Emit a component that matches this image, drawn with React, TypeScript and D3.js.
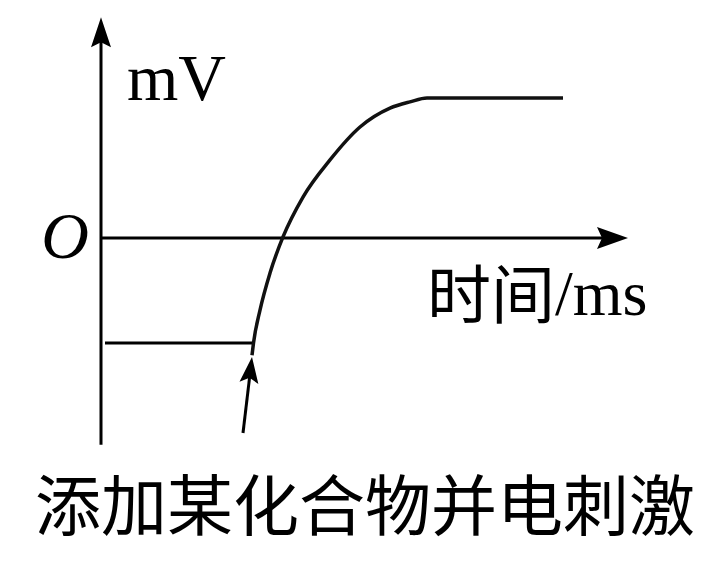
import React from 'react';
import * as d3 from 'd3';

// 膜电位曲线 (时间 单位, mV 任意单位)
const restTime = [0.4, 15.3];
const restValue = -30;
const curveTime = [15.1, 15.25, 15.9, 16.9, 18.2, 20.2, 22.9, 25.9, 28.9, 30.9, 32.6, 46.2];
const curveValue = [-33.5, -30, -20.6, -10, 0.3, 11.7, 22.3, 31.7, 37.1, 38.9, 40, 40];

// 刺激箭头: 尾 -> 头
const stimulusTime = [14.2, 15.1];
const stimulusValue = [-55.7, -34];

// 坐标轴范围
const xAxisExtent = [0, 52.7];
const yAxisExtent = [-59.1, 63.1];

const yLabel = 'mV';
const originLabel = 'O';
const xLabelCn = '时间';
const xLabelUnit = '/ms';
const caption = '添加某化合物并电刺激';

const W = 719;
const H = 565;
const serif = '"Liberation Serif", "Times New Roman", serif';
const cjk = '"Noto Sans CJK SC", sans-serif';

// 箭头: tip 为顶点, dir 为方向单位向量
const arrowHead = (tip: [number, number], dir: [number, number], len = 30, half = 10, notch = 6) => {
  const [tx, ty] = tip;
  const [dx, dy] = dir;
  const nx = -dy, ny = dx;
  const bx = tx - dx * len, by = ty - dy * len;
  const p = d3.path();
  p.moveTo(tx, ty);
  p.lineTo(bx + nx * half, by + ny * half);
  p.lineTo(tx - dx * (len - notch), ty - dy * (len - notch));
  p.lineTo(bx - nx * half, by - ny * half);
  p.closePath();
  return p.toString();
};

const App = () => {
  const x = d3.scaleLinear().domain([0, 10]).range([101, 201]);
  const y = d3.scaleLinear().domain([0, 10]).range([238, 203]);

  const line = d3.line<[number, number]>()
    .x(d => x(d[0]))
    .y(d => y(d[1]))
    .curve(d3.curveMonotoneX);

  const curvePts = curveTime.map((t, i) => [t, curveValue[i]] as [number, number]);

  const x0 = x(xAxisExtent[0]);
  const x1 = x(xAxisExtent[1]);
  const yTop = y(yAxisExtent[1]);
  const yBot = y(yAxisExtent[0]);

  const sx0 = x(stimulusTime[0]), sy0 = y(stimulusValue[0]);
  const sx1 = x(stimulusTime[1]), sy1 = y(stimulusValue[1]);
  const sl = Math.hypot(sx1 - sx0, sy1 - sy0);
  const sdir: [number, number] = [(sx1 - sx0) / sl, (sy1 - sy0) / sl];

  return (
    <svg width={W} height={H} style={{ position: 'absolute', left: 0, top: 0, background: '#fff' }}>
      {/* y 轴 */}
      <line x1={x0} y1={yBot} x2={x0} y2={yTop + 20} stroke="#000" strokeWidth={3} />
      <path d={arrowHead([x0, yTop], [0, -1], 30, 10, 5)} fill="#000" />
      {/* x 轴 */}
      <line x1={x0} y1={y(0)} x2={x1 - 20} y2={y(0)} stroke="#000" strokeWidth={3} />
      <path d={arrowHead([x1, y(0)], [1, 0], 31, 11, 5)} fill="#000" />

      {/* 静息电位 */}
      <line x1={x(restTime[0])} y1={y(restValue)} x2={x(restTime[1])} y2={y(restValue)}
        stroke="#000" strokeWidth={3} />
      {/* 曲线 */}
      <path d={line(curvePts) || ''} fill="none" stroke="#111" strokeWidth={3.5} strokeLinejoin="round" />

      {/* 刺激箭头 */}
      <line x1={sx0} y1={sy0} x2={sx1 - sdir[0] * 18} y2={sy1 - sdir[1] * 18} stroke="#000" strokeWidth={3} />
      <path d={arrowHead([sx1, sy1], sdir, 26, 9.5, 5)} fill="#000" />

      {/* 文字 */}
      <text x={127} y={100} fontFamily={serif} fontSize={66} fill="#000">{yLabel}</text>
      <text x={89} y={258} fontFamily={serif} fontSize={66} fontStyle="italic" textAnchor="end" fill="#000">
        {originLabel}
      </text>
      <text x={427} y={318} fontSize={64} fill="#000">
        <tspan fontFamily={cjk}>{xLabelCn}</tspan>
        <tspan fontFamily={serif} y={315}>{xLabelUnit}</tspan>
      </text>
      <text x={35} y={530} fontFamily={cjk} fontSize={66} fill="#000">{caption}</text>
    </svg>
  );
};

export default App;
